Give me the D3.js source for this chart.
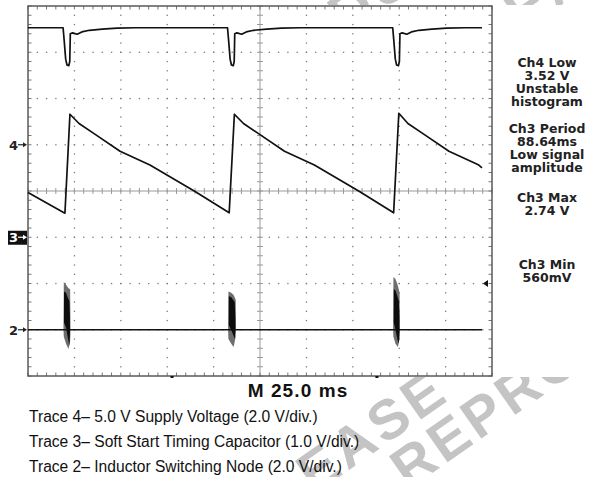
<!DOCTYPE html>
<html>
<head>
<meta charset="utf-8">
<script src="https://cdn.jsdelivr.net/npm/d3@7"></script>
<style>
  body { margin: 0; background: #fff; }
  svg { display: block; }
</style>
</head>
<body>
<div id="wrapper"></div>
<script>
// ---- data: time in ms, value in volts ----
// Trace 4, 5.0 V supply (2.0 V/div)
const trace4 = [
  [0, 5.06], [18.9, 5.06], [19.5, 4.5], [20.3, 3.7], [21.0, 3.45], [22.0, 3.42], [22.5, 3.6],
  [22.8, 4.8], [24.0, 4.84], [26.5, 4.78], [29.0, 4.88], [33, 4.95], [40, 5.0], [48, 5.04], [58, 5.06],
  [107.5, 5.06], [108.1, 4.5], [108.9, 3.7], [109.6, 3.45], [110.6, 3.42], [111.1, 3.6],
  [111.4, 4.8], [112.6, 4.84], [115.1, 4.78], [117.6, 4.88], [121.6, 4.95], [128.6, 5.0], [136.6, 5.04], [146.6, 5.06],
  [196.5, 5.06], [197.1, 4.5], [197.9, 3.7], [198.6, 3.45], [199.6, 3.42], [200.1, 3.6],
  [200.4, 4.8], [201.6, 4.84], [204.1, 4.78], [206.6, 4.88], [210.6, 4.95], [217.6, 5.0], [225.6, 5.04], [235.6, 5.06],
  [244.6, 5.06],
]
// Trace 3, soft start capacitor (1.0 V/div)
const trace3 = [
  [0, 0.97], [19.9, 0.52], [22.6, 2.66], [27.5, 2.46], [36, 2.23], [49.6, 1.86], [65.7, 1.56], [90, 0.99],
  [108.4, 0.53], [111.2, 2.66], [116.1, 2.46], [124.6, 2.23], [138.2, 1.86], [154.3, 1.56], [178.6, 0.99],
  [197.0, 0.53], [199.8, 2.68], [204.7, 2.46], [213.2, 2.23], [226.8, 1.86], [242.9, 1.56], [244.6, 1.50],
]
// Trace 2, inductor switching node (2.0 V/div)
const trace2 = [[0, 0], [244.6, 0]]
// switching bursts on trace 2: [t, vMax, vMin]
const burstOuter = [
  [[19.1, 0, 0], [19.3, 2.06, -0.3], [20.5, 1.95, -0.6], [21.8, 1.8, -0.83], [22.7, 1.75, -0.5], [22.9, 0, 0]],
  [[107.8, 0, 0], [108.0, 1.65, -0.4], [109.5, 1.6, -0.6], [110.8, 1.5, -0.75], [111.9, 1.3, -0.3], [112.1, 0, 0]],
  [[196.7, 0, 0], [196.9, 2.28, -0.3], [198.0, 2.2, -0.6], [199.3, 1.9, -0.75], [200.2, 1.6, -0.4], [200.4, 0, 0]],
]
const burstInner = [
  [[19.4, 1.65, 0.3], [20.5, 1.6, 0.1], [21.6, 1.35, -0.4], [22.3, 1.25, -0.7], [22.6, 0.6, -0.2]],
  [[108.2, 1.45, 0.2], [109.4, 1.42, 0.0], [110.5, 1.3, -0.2], [111.4, 1.2, -0.4], [111.7, 0.5, 0]],
  [[197.1, 1.75, 0.3], [198.0, 1.7, 0.0], [199.0, 1.45, -0.4], [199.8, 1.25, -0.6], [200.1, 0.6, -0.1]],
]

// channel settings: ground offset (divisions) and volts per division
const channels = [
  { name: "4", offset: 1, voltsPerDiv: 2.0, data: trace4 },
  { name: "3", offset: -1, voltsPerDiv: 1.0, data: trace3 },
  { name: "2", offset: -3, voltsPerDiv: 2.0, data: trace2 },
]
const triggerLevel = 2.0 // volts on ch2
const timeMarkers = [77.6, 188]

const readouts = [
  ["Ch4 Low", "3.52 V", "Unstable", "histogram"],
  ["Ch3 Period", "88.64ms", "Low signal", "amplitude"],
  ["Ch3 Max", "2.74 V"],
  ["Ch3 Min", "560mV"],
]
const timebaseLabel = "M 25.0 ms"
const traceNotes = [
  "Trace 4\u2013 5.0 V Supply Voltage (2.0 V/div.)",
  "Trace 3\u2013 Soft Start Timing Capacitor (1.0 V/div.)",
  "Trace 2\u2013 Inductor Switching Node (2.0 V/div.)",
]
const watermarkWords = ["PLEASE", "REPRODUCTION", "RELEASE", "REPRODUCTION"]

function drawScope() {
  const dimensions = {
    width: 589,
    height: 477,
    left: 28,
    right: 492,
    top: 6,
    bottom: 376,
    readoutX: 547,
    readoutTops: [62, 128, 197, 264],
    lineStep: 13.3,
  }
  const divW = (dimensions.right - dimensions.left) / 10
  const divH = (dimensions.bottom - dimensions.top) / 8

  const svg = d3.select("#wrapper").append("svg")
    .attr("width", dimensions.width)
    .attr("height", dimensions.height)

  // watermark, then white cover for the scope image area
  const wm = svg.append("g")
    .attr("fill", "#c4c4c4")
    .style("font-family", "'Liberation Sans', Arial, sans-serif")
    .style("font-weight", "bold")
    .style("font-size", "56px")
    .style("letter-spacing", "4px")
  wm.append("text")
    .attr("text-anchor", "end")
    .attr("transform", "translate(452,398) rotate(-35)")
    .text(watermarkWords[0])
  wm.append("text")
    .attr("transform", "translate(408,490) rotate(-35)")
    .text(watermarkWords[1])
  wm.append("text")
    .attr("text-anchor", "middle")
    .attr("transform", "translate(540,20) rotate(-35)")
    .text(watermarkWords[2])
  wm.append("text")
    .attr("text-anchor", "middle")
    .attr("transform", "translate(372,18) rotate(-35)")
    .text(watermarkWords[3])
  svg.append("rect")
    .attr("x", 0).attr("y", 5)
    .attr("width", dimensions.width).attr("height", 372)
    .attr("fill", "#fff")

  // scales
  const xScale = d3.scaleLinear().domain([0, 250]).range([dimensions.left, dimensions.right])
  const divScale = d3.scaleLinear().domain([-4, 4]).range([dimensions.bottom, dimensions.top])
  const yFor = ch => v => divScale(ch.offset + v / ch.voltsPerDiv)

  const grid = svg.append("g")
  // dotted graticule
  const minorX = d3.range(0, 50.5).map(i => dimensions.left + i * divW / 5)
  const minorY = d3.range(0, 40.5).map(i => dimensions.top + i * divH / 5)
  d3.range(1, 10).filter(i => i !== 5).forEach(i => {
    const x = dimensions.left + i * divW
    grid.selectAll(null).data(minorY.slice(1, -1)).join("rect")
      .attr("x", x - 0.6).attr("y", d => d - 0.6).attr("width", 1.3).attr("height", 1.3)
      .attr("fill", "#7a7a7a")
  })
  d3.range(1, 8).filter(j => j !== 4).forEach(j => {
    const y = dimensions.top + j * divH
    grid.selectAll(null).data(minorX.slice(1, -1)).join("rect")
      .attr("x", d => d - 0.6).attr("y", y - 0.6).attr("width", 1.3).attr("height", 1.3)
      .attr("fill", "#7a7a7a")
  })
  // center cross lines with ticks
  const cx = dimensions.left + 5 * divW
  const cy = dimensions.top + 4 * divH
  grid.append("line").attr("x1", dimensions.left).attr("x2", dimensions.right)
    .attr("y1", cy).attr("y2", cy).attr("stroke", "#9a9a9a").attr("stroke-width", 1)
  grid.append("line").attr("x1", cx).attr("x2", cx)
    .attr("y1", dimensions.top).attr("y2", dimensions.bottom).attr("stroke", "#9a9a9a").attr("stroke-width", 1)
  grid.selectAll(null).data(minorX).join("line")
    .attr("x1", d => d).attr("x2", d => d).attr("y1", cy - 3).attr("y2", cy + 3)
    .attr("stroke", "#9a9a9a")
  grid.selectAll(null).data(minorY).join("line")
    .attr("y1", d => d).attr("y2", d => d).attr("x1", cx - 3).attr("x2", cx + 3)
    .attr("stroke", "#9a9a9a")
  // border ticks
  grid.selectAll(null).data(minorX).join("line")
    .attr("x1", d => d).attr("x2", d => d).attr("y1", dimensions.top).attr("y2", dimensions.top + 3.5)
    .attr("stroke", "#777")
  grid.selectAll(null).data(minorX).join("line")
    .attr("x1", d => d).attr("x2", d => d).attr("y1", dimensions.bottom).attr("y2", dimensions.bottom - 3.5)
    .attr("stroke", "#777")
  grid.selectAll(null).data(minorY).join("line")
    .attr("y1", d => d).attr("y2", d => d).attr("x1", dimensions.left).attr("x2", dimensions.left + 3.5)
    .attr("stroke", "#777")
  grid.selectAll(null).data(minorY).join("line")
    .attr("y1", d => d).attr("y2", d => d).attr("x1", dimensions.right).attr("x2", dimensions.right - 3.5)
    .attr("stroke", "#777")
  // frame
  grid.append("rect")
    .attr("x", dimensions.left).attr("y", dimensions.top)
    .attr("width", dimensions.right - dimensions.left)
    .attr("height", dimensions.bottom - dimensions.top)
    .attr("fill", "none").attr("stroke", "#5a5a5a").attr("stroke-width", 1.5)

  // bursts on ch2
  const ch2 = channels[2]
  const burstArea = d3.area()
    .x(d => xScale(d[0]))
    .y0(d => yFor(ch2)(d[2]))
    .y1(d => yFor(ch2)(d[1]))
  svg.append("g").selectAll("path").data(burstOuter).join("path")
    .attr("d", burstArea).attr("fill", "#6e6e6e")
  svg.append("g").selectAll("path").data(burstInner).join("path")
    .attr("d", burstArea).attr("fill", "#0d0d0d")

  // traces
  channels.forEach(ch => {
    const line = d3.line().x(d => xScale(d[0])).y(d => yFor(ch)(d[1]))
    svg.append("path")
      .attr("d", line(ch.data))
      .attr("fill", "none")
      .attr("stroke", "#111")
      .attr("stroke-width", ch.name === "2" ? 1.4 : 1.7)
      .attr("stroke-linejoin", "round")
  })

  // channel ground markers on the left
  channels.forEach(ch => {
    const y = divScale(ch.offset)
    const g = svg.append("g")
    const inverse = ch.name === "3"
    if (inverse) {
      g.append("rect").attr("x", 8).attr("y", y - 6.5).attr("width", 19).attr("height", 14).attr("fill", "#111")
    }
    const col = inverse ? "#fff" : "#222"
    g.append("text")
      .attr("x", 9).attr("y", y + 5)
      .style("font-family", "'DejaVu Sans', sans-serif")
      .style("font-weight", "bold").style("font-size", "13px")
      .attr("fill", col)
      .text(ch.name)
    g.append("line").attr("x1", 18).attr("x2", 25).attr("y1", y).attr("y2", y)
      .attr("stroke", col).attr("stroke-width", 1.2)
    g.append("path").attr("d", `M27,${y} L23,${y - 2.5} L23,${y + 2.5} Z`).attr("fill", col)
  })

  // trigger level arrow on right
  const ty = yFor(ch2)(triggerLevel)
  svg.append("path")
    .attr("d", `M483,${ty} L488,${ty - 3.5} L488,${ty + 3.5} Z`)
    .attr("fill", "#111")
  // time markers under the frame
  svg.selectAll(".tmark").data(timeMarkers).join("rect")
    .attr("class", "tmark")
    .attr("x", d => xScale(d) - 1.5).attr("y", dimensions.bottom).attr("width", 3).attr("height", 2)
    .attr("fill", "#111")

  // readouts
  const ro = svg.append("g")
    .attr("text-anchor", "middle")
    .style("font-family", "'DejaVu Sans', sans-serif")
    .style("font-weight", "bold")
    .style("font-size", "12.5px")
    .attr("fill", "#222")
  readouts.forEach((lines, i) => {
    ro.selectAll(null).data(lines).join("text")
      .attr("x", dimensions.readoutX)
      .attr("y", (d, k) => dimensions.readoutTops[i] + k * dimensions.lineStep + 4.5)
      .text(d => d)
  })

  // timebase
  svg.append("text")
    .attr("x", 298).attr("y", 397)
    .attr("text-anchor", "middle")
    .style("font-family", "'Liberation Sans', Arial, sans-serif")
    .style("font-weight", "bold")
    .style("font-size", "19px")
    .style("letter-spacing", "1.1px")
    .attr("fill", "#111")
    .text(timebaseLabel)

  // trace notes
  svg.selectAll(".note").data(traceNotes).join("text")
    .attr("class", "note")
    .attr("x", 29)
    .attr("y", (d, i) => 421.5 + i * 25)
    .style("font-family", "'Liberation Sans', Arial, sans-serif")
    .style("font-size", "15.6px")
    .attr("fill", "#111")
    .text(d => d)
}
drawScope()
</script>
</body>
</html>
